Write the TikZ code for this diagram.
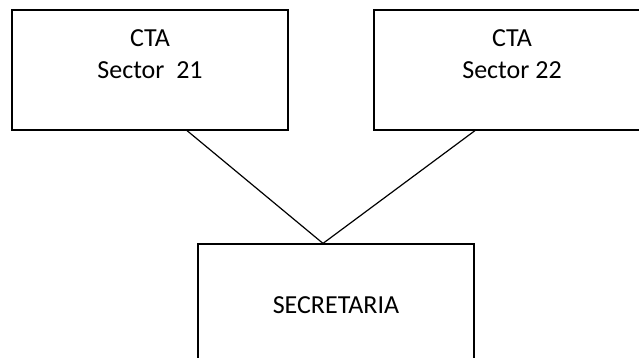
\documentclass[tikz,border=0pt]{standalone}
\usepackage{fontspec}
\setmainfont{Carlito}
\usetikzlibrary{positioning,calc}

\begin{document}
\begin{tikzpicture}[x=1pt, y=-1pt,
    box/.style={draw, line width=1.2pt, minimum width=276pt, minimum height=120pt, inner sep=0pt},
    lbl/.style={font=\fontsize{26}{31}\selectfont, anchor=base, inner sep=0pt}]
    \useasboundingbox (0,0) rectangle (639,358);

    % Boxes
    \node[box] (ctaA) at (150, 70) {};
    \node[box] (ctaB) at (512, 70) {};
    \node[box] (sec) at (336, 304) {};

    % Labels
    \foreach \n/\x/\s in {lA/150/Sector\ \ 21, lB/512/Sector 22} {
        \node[lbl] (\n top) at (\x, 47) {CTA};
        \node[lbl] (\n bot) at (\x, 79) {\s};
    }
    \node[lbl] (secText) at (336, 313) {SECRETARIA};

    % Connectors
    \coordinate (jA) at ([xshift=37pt]ctaA.south);
    \coordinate (jB) at ([xshift=-37pt]ctaB.south);
    \coordinate (jSec) at ([xshift=-13pt]sec.north);
    \draw[line width=1.2pt] (jA) -- (jSec) -- (jB);
\end{tikzpicture}
\end{document}
